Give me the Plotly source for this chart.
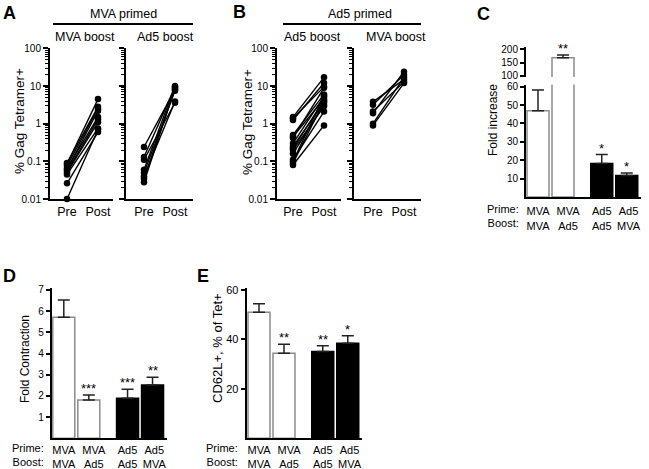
import plotly.graph_objects as go

W, H = 649, 469
FONT = "Arial, Liberation Sans, Helvetica, sans-serif"

# ---------------- data ----------------
# Panel A: MVA primed
pre_A_mva = [0.09, 0.085, 0.075, 0.065, 0.06, 0.055, 0.05, 0.045, 0.026, 0.01]
post_A_mva = [2.8, 4.5, 2.5, 1.5, 2.2, 1.3, 1.1, 0.75, 0.6, 0.7]
pre_A_ad5 = [0.24, 0.13, 0.11, 0.06, 0.05, 0.04, 0.035, 0.028]
post_A_ad5 = [8.0, 9.5, 3.6, 10.0, 7.5, 3.9, 8.5, 9.0]
# Panel B: Ad5 primed
pre_B_ad5 = [1.5, 1.4, 1.25, 0.5, 0.45, 0.42, 0.3, 0.25, 0.22, 0.2, 0.16, 0.11, 0.1, 0.09, 0.08]
post_B_ad5 = [17, 9.5, 12, 6, 4.6, 9, 5.3, 3.6, 4.2, 2.9, 3.2, 2.1, 5.5, 3.9, 0.9]
pre_B_mva = [3.8, 3.2, 2.1, 1.9, 1.0, 0.9]
post_B_mva = [15, 20, 13, 24, 17, 12]

time_labels = ["Pre", "Post"]
log_tickvals = [0.01, 0.1, 1, 10, 100]
log_ticktext = ["0.01", "0.1", "1", "10", "100"]

# Bar panels
groups = ["MVA<br>MVA", "MVA<br>Ad5", "Ad5<br>Ad5", "Ad5<br>MVA"]
fold_increase = [46.9, 169, 18.2, 11.7]
fold_increase_sem = [11.3, 10, 4.9, 1.4]
fold_increase_sig = ["", "**", "*", "*"]
fold_contraction = [5.71, 1.81, 1.89, 2.51]
fold_contraction_sem = [0.81, 0.23, 0.42, 0.37]
fold_contraction_sig = ["", "***", "***", "**"]
cd62l = [51.0, 34.4, 35.1, 38.5]
cd62l_sem = [3.4, 3.6, 2.3, 3.0]
cd62l_sig = ["", "**", "**", "*"]

# ---------------- helpers ----------------
def fx(x):
    return x / W


def fy(y):
    return 1 - y / H


fig = go.Figure()
annotations = []
shapes = []
layout = {}


def ax_name(n, letter):
    return f"{letter}axis" if n == 1 else f"{letter}axis{n}"


def ref(n, letter):
    return letter if n == 1 else f"{letter}{n}"


minor_vals = [m * 10 ** e for e in range(-2, 2) for m in range(2, 10)]

line_style = dict(showline=True, linewidth=2, linecolor="black", showgrid=False,
                  zeroline=False, mirror=False, automargin=False)


def dot_panel(n, pre, post, x0, x1, xpre, xpost, show_labels):
    step = xpost - xpre
    lo = -(xpre - x0) / step
    hi = 1 + (x1 - xpost) / step
    xs, ys = [], []
    for a, b in zip(pre, post):
        xs += [0, 1, None]
        ys += [a, b, None]
    fig.add_trace(go.Scatter(
        x=xs, y=ys, mode="lines+markers",
        line=dict(color="black", width=1.4),
        marker=dict(color="black", size=6.5),
        xaxis=ref(n, "x"), yaxis=ref(n, "y"), cliponaxis=False,
        hoverinfo="skip"))
    layout[ax_name(n, "x")] = dict(
        domain=[fx(x0), fx(x1)], range=[lo, hi], anchor=ref(n, "y"),
        tickvals=[0, 1], ticktext=time_labels, ticks="", tickangle=0,
        tickfont=dict(size=12.5, color="black", family=FONT), **line_style)
    layout[ax_name(n, "y")] = dict(
        domain=[fy(199), fy(48)], type="log", range=[-2, 2.01], anchor=ref(n, "x"),
        tickvals=log_tickvals, ticktext=log_ticktext, ticks="outside", ticklen=5,
        tickwidth=1.5, tickcolor="black", showticklabels=show_labels,
        tickfont=dict(size=10, color="black", family=FONT),
        minor=dict(tickmode="array", tickvals=minor_vals, ticks="outside", ticklen=3,
                   tickwidth=1, tickcolor="black", showgrid=False),
        **line_style)


dot_panel(1, pre_A_mva, post_A_mva, 50, 113, 67, 98, True)
dot_panel(2, pre_A_ad5, post_A_ad5, 126, 193, 144, 175, False)
dot_panel(3, pre_B_ad5, post_B_ad5, 277, 341, 293, 324, True)
dot_panel(4, pre_B_mva, post_B_mva, 354, 421, 373, 404, False)

POS = [0, 1, 2.55, 3.55]
LABEL_POS = [0, 1.2, 2.55, 3.62]
UNIT = 25.0
FILL = ["white", "white", "black", "black"]
EDGE = ["#8c8c8c", "#8c8c8c", "black", "black"]


def bar_trace(nx, ny, vals, sems):
    fig.add_trace(go.Bar(
        x=POS, y=vals, width=0.88,
        marker=dict(color=FILL, line=dict(color=EDGE, width=1.5)),
        error_y=dict(type="data", array=sems, arrayminus=[0] * len(sems),
                     symmetric=False, color="#222", thickness=1.5, width=6),
        xaxis=ref(nx, "x"), yaxis=ref(ny, "y"), hoverinfo="skip"))


def bar_xaxis(n, ny, axis_px, first_center, standoff):
    lo = -(first_center - axis_px) / UNIT
    x1 = axis_px + 115
    hi = lo + 115 / UNIT
    layout[ax_name(n, "x")] = dict(
        domain=[fx(axis_px), fx(x1)], range=[lo, hi], anchor=ref(ny, "y"),
        tickvals=LABEL_POS, ticktext=groups, ticks="", tickangle=0,
        ticklabelstandoff=standoff,
        tickfont=dict(size=11, color="black", family=FONT), **line_style)


def stars(nx, ny, vals, sems, sig, skip=None):
    for i, (v, s, t) in enumerate(zip(vals, sems, sig)):
        if not t or (skip is not None and i in skip):
            continue
        annotations.append(dict(
            x=POS[i], y=v + s, xref=ref(nx, "x"), yref=ref(ny, "y"),
            text=t, showarrow=False, yanchor="bottom", yshift=-3,
            font=dict(size=13, color="black", family=FONT)))


yfont = dict(size=10, color="black", family=FONT)
ystyle = dict(ticks="outside", ticklen=4, tickwidth=1.5, tickcolor="black",
              tickfont=yfont, **line_style)

# Panel C (broken axis): lower y5, upper y6 sharing x5
bar_trace(5, 5, fold_increase, fold_increase_sem)
bar_trace(5, 6, fold_increase, fold_increase_sem)
bar_xaxis(5, 5, 526, 538, 3)
layout["yaxis5"] = dict(domain=[fy(197), fy(84.5)], range=[0, 61.2], anchor="x5",
                        tickvals=[10, 20, 30, 40, 50, 60], **ystyle)
layout["yaxis6"] = dict(domain=[fy(77), fy(47)], range=[96.2, 209.4], anchor="x5",
                        tickvals=[100, 150, 200], **ystyle)
stars(5, 5, fold_increase, fold_increase_sem, fold_increase_sig, skip=[1])
stars(5, 6, fold_increase, fold_increase_sem, ["", "**", "", ""])

# Panel D
bar_trace(7, 7, fold_contraction, fold_contraction_sem)
bar_xaxis(7, 7, 51.7, 63.8, 0)
layout["yaxis7"] = dict(domain=[fy(438.3), fy(288)], range=[0, 7.09], anchor="x7",
                        tickvals=[1, 2, 3, 4, 5, 6, 7], **ystyle)
stars(7, 7, fold_contraction, fold_contraction_sem, fold_contraction_sig)

# Panel E
bar_trace(8, 8, cd62l, cd62l_sem)
bar_xaxis(8, 8, 246.7, 259, 0)
layout["yaxis8"] = dict(domain=[fy(438.3), fy(288)], range=[0, 60.8], anchor="x8",
                        tickvals=[20, 40, 60], **dict(ystyle, tickfont=dict(size=11, color="black", family=FONT)))
stars(8, 8, cd62l, cd62l_sem, cd62l_sig)


# ---------------- text annotations ----------------
def txt(x, y, text, size=12, bold=False, angle=0, xanchor="center", yanchor="middle", align="center"):
    annotations.append(dict(
        x=fx(x), y=fy(y), xref="paper", yref="paper", text=f"<b>{text}</b>" if bold else text,
        showarrow=False, textangle=angle, xanchor=xanchor, yanchor=yanchor, align=align,
        font=dict(size=size, color="black", family=FONT)))


# panel letters
txt(9, 13, "A", 18, bold=True)
txt(239, 12, "B", 18, bold=True)
txt(483, 14, "C", 18, bold=True)
txt(9, 276, "D", 18, bold=True)
txt(203, 276, "E", 18, bold=True)

# headers
txt(123, 14, "MVA primed", 12.5)
txt(85, 37, "MVA boost", 12.5)
txt(165, 37, "Ad5 boost", 12.5)
txt(360, 14, "Ad5 primed", 12.5)
txt(312, 37, "Ad5 boost", 12.5)
txt(396, 37, "MVA boost", 12.5)
shapes.append(dict(type="line", xref="paper", yref="paper", x0=fx(53), x1=fx(193),
                   y0=fy(24), y1=fy(24), line=dict(color="black", width=2)))
shapes.append(dict(type="line", xref="paper", yref="paper", x0=fx(283), x1=fx(421),
                   y0=fy(24), y1=fy(24), line=dict(color="black", width=2)))

# y titles
txt(20, 121, "% Gag Tetramer+", 13.5, angle=-90)
txt(247, 122, "% Gag Tetramer+", 13.5, angle=-90)
txt(493, 120, "Fold increase", 12, angle=-90)
txt(25, 359, "Fold Contraction", 12, angle=-90)
txt(217, 348, "CD62L+, % of Tet+", 13, angle=-90)

# Prime / Boost row labels
txt(521, 216.5, "Prime:<br>Boost:", 11, xanchor="right", align="right")
txt(46, 455, "Prime:<br>Boost:", 11, xanchor="right", align="right")
txt(240, 455, "Prime:<br>Boost:", 11, xanchor="right", align="right")

fig.update_layout(
    template="none",
    width=W, height=H, autosize=False,
    margin=dict(l=0, r=0, t=0, b=0, pad=0),
    paper_bgcolor="white", plot_bgcolor="white",
    showlegend=False, barmode="overlay",
    font=dict(family=FONT, color="black"),
    annotations=annotations, shapes=shapes,
    **layout)

fig.write_html("out.html", config={"displayModeBar": False},
               post_script="document.body.style.margin='0px';")
